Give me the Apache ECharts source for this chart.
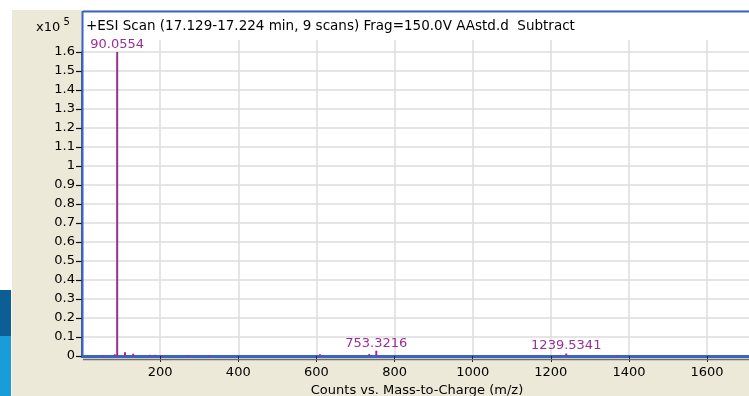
<!DOCTYPE html>
<html>
<head>
<meta charset="utf-8">
<script src="https://cdn.jsdelivr.net/npm/echarts@6/dist/echarts.min.js"></script>
<style>
html,body{margin:0;padding:0;background:#fff;}
#c{width:749px;height:396px;}
</style>
</head>
<body>
<div id="c"></div>
<script>
// m/z of each peak (stick spectrum)
var mz = [54, 84, 90.0554, 110, 131, 174, 187, 205, 271, 325, 609, 735, 753.3216, 1223, 1239.5341, 1369];
// counts
var counts = [500, 900, 160000, 2000, 1200, 600, 600, 500, 400, 400, 900, 1000, 2800, 500, 1300, 500];
// peaks that carry a label
var labeledPeaks = [90.0554, 753.3216, 1239.5341];
var xTicks = [200, 400, 600, 800, 1000, 1200, 1400, 1600];
var yTicks = ['0','0.1','0.2','0.3','0.4','0.5','0.6','0.7','0.8','0.9','1','1.1','1.2','1.3','1.4','1.5','1.6'];
var titleText = '+ESI Scan (17.129-17.224 min, 9 scans) Frag=150.0V AAstd.d  Subtract';
var xName = 'Counts vs. Mass-to-Charge (m/z)';

var FONT = 'DejaVu Sans';
var peakColor = '#9a2e98';
var gridColor = '#dcdcdc';
var X_MIN = 0, X_MAX = 1715;

var data = mz.map(function (m, i) { return [m, counts[i]]; });

var chart = echarts.init(document.getElementById('c'));
chart.setOption({
  animation: false,
  backgroundColor: '#ffffff',
  graphic: [
    { type: 'rect', z: -10, shape: { x: 12, y: 10, width: 737, height: 386 }, style: { fill: '#ECE9D8' } },
    { type: 'rect', z: -10, shape: { x: 0, y: 290, width: 11, height: 46 }, style: { fill: '#0c5f94' } },
    { type: 'rect', z: -10, shape: { x: 0, y: 336, width: 11, height: 60 }, style: { fill: '#1a9cd8' } },
    { type: 'rect', z: -9, shape: { x: 83, y: 11, width: 666, height: 346 }, style: { fill: '#ffffff' } },
    { type: 'line', z: 5, shape: { x1: 83, y1: 11.5, x2: 749, y2: 11.5 }, style: { stroke: '#3b63c4', lineWidth: 2 } },
    { type: 'line', z: 5, shape: { x1: 82.5, y1: 11, x2: 82.5, y2: 358 }, style: { stroke: '#3b63c4', lineWidth: 2 } },
    { type: 'line', z: 4, shape: { x1: 83, y1: 359.5, x2: 749, y2: 359.5 }, style: { stroke: '#6e6e6e', lineWidth: 1.5 } },
    { type: 'text', z: 6, left: 86, top: 19, style: { text: titleText, font: '13.5px "' + FONT + '"', fill: '#000' } },
    { type: 'text', z: 6, left: 36, top: 17, style: {
        text: '{a|x10}{b| 5}', fill: '#000',
        rich: { a: { font: '13px "' + FONT + '"', padding: [4, 0, 0, 0] }, b: { font: '10px "' + FONT + '"', verticalAlign: 'top' } }
      } }
  ],
  grid: [
    { left: 82, right: -3, top: 52, bottom: 40, outerBoundsMode: 'none', containLabel: false },
    { left: 82, right: -3, top: 40, height: 12, outerBoundsMode: 'none', containLabel: false }
  ],
  xAxis: [
    {
      type: 'value', gridIndex: 0, min: X_MIN, max: X_MAX, interval: 200,
      name: xName, nameLocation: 'middle', nameGap: 27,
      nameTextStyle: { fontFamily: FONT, fontSize: 13, color: '#000' },
      axisLine: { show: true, onZero: false, lineStyle: { color: '#3b63c4', width: 3 } },
      axisTick: { show: true, length: 6, lineStyle: { color: '#222', width: 1 } },
      axisLabel: { show: true, fontFamily: FONT, fontSize: 13, color: '#000', margin: 10, showMinLabel: false, showMaxLabel: false,
        formatter: function (v) { return xTicks.indexOf(v) >= 0 ? String(v) : ''; } },
      splitLine: { show: true, lineStyle: { color: gridColor, width: 1.5 } }
    },
    {
      type: 'value', gridIndex: 1, min: X_MIN, max: X_MAX, interval: 200,
      axisLine: { show: false }, axisTick: { show: false }, axisLabel: { show: false },
      splitLine: { show: true, lineStyle: { color: gridColor, width: 1.5 } }
    }
  ],
  yAxis: [
    {
      type: 'value', gridIndex: 0, min: 0, max: 160000, interval: 10000,
      axisLine: { show: true, lineStyle: { color: '#1f2f6a', width: 1.5 } },
      axisTick: { show: true, length: 6, lineStyle: { color: '#111', width: 1.2 } },
      axisLabel: { fontFamily: FONT, fontSize: 13, color: '#000', margin: 7,
        formatter: function (v) { return yTicks[Math.round(v / 10000)]; } },
      splitLine: { show: true, lineStyle: { color: gridColor, width: 1.5 } }
    },
    { type: 'value', gridIndex: 1, min: 0, max: 1, show: false }
  ],
  series: [{
    type: 'bar',
    xAxisIndex: 0, yAxisIndex: 0,
    barWidth: 2,
    data: data,
    itemStyle: { color: peakColor },
    label: {
      show: true, position: 'top', distance: 1,
      fontFamily: FONT, fontSize: 13, color: peakColor,
      formatter: function (p) { return labeledPeaks.indexOf(p.value[0]) >= 0 ? String(p.value[0]) : ''; }
    }
  }]
});
</script>
</body>
</html>
